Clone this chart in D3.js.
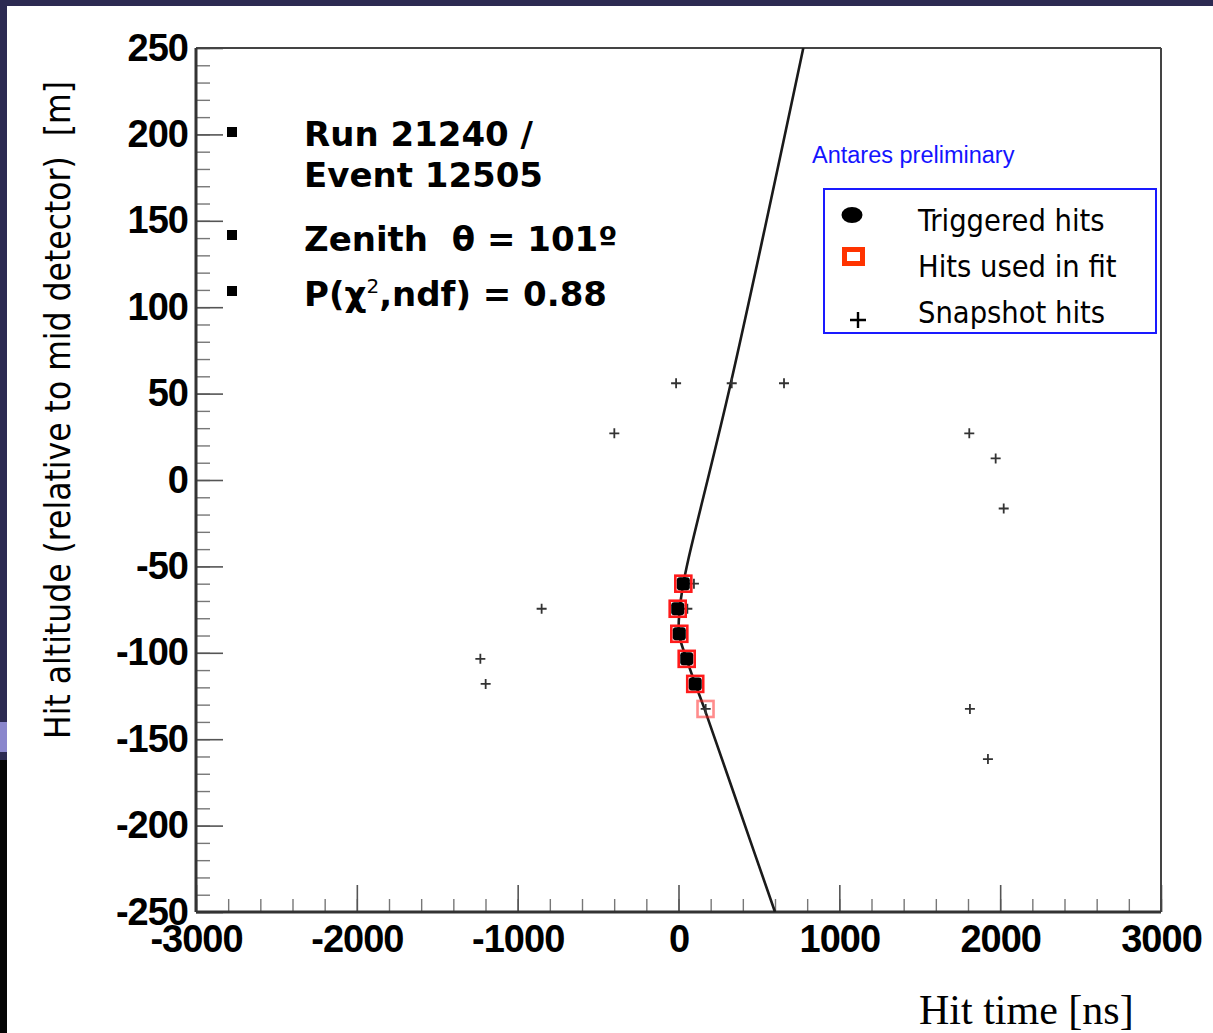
<!DOCTYPE html>
<html>
<head>
  <meta charset="utf-8">
  <title>Hit altitude vs hit time</title>
  <script src="https://d3js.org/d3.v7.min.js"></script>
  <style>
    body { margin: 0; background: #2c2a52; }
    svg { display: block; }
    .tick text { font-family: "Liberation Sans", Arial, sans-serif; font-weight: bold; font-size: 38px; fill: #000; letter-spacing: -1px; }
    .tick line { stroke: #555; stroke-width: 1.6px; }
    .minor .tick line { stroke: #777; stroke-width: 1.4px; }
  </style>
</head>
<body>
<script>

// axis ticks
var timeTicks = [-3000, -2000, -1000, 0, 1000, 2000, 3000];
var altTicks = [-250, -200, -150, -100, -50, 0, 50, 100, 150, 200, 250];

// snapshot hits (time ns, altitude m)
var snapT = [-15, 331, 656, -399, 1808, 1972, 2022, -851, -1232, -1199, 1812, 1924, 96, 55, 169];
var snapZ = [56, 56, 56, 27, 27, 12.5, -16.5, -74.5, -103.5, -118, -132.5, -161.5, -60, -74.5, -132.5];

// triggered hits
var trigT = [30, -5, 5, 51, 104];
var trigZ = [-60, -74.5, -89, -103.5, -118];

// hits used in fit
var fitT = [30, -5, 5, 51, 104, 168];
var fitZ = [-60, -74.5, -89, -103.5, -118, -132.5];

// fitted track curve
var curveT = [776, 325, 61, 30, 8, 3, 50, 104, 160, 380, 600];
var curveZ = [250, 56, -46, -60, -74.5, -89, -103.5, -118, -132, -191, -250];

var legendLabels = ["Triggered hits", "Hits used in fit", "Snapshot hits"];
var infoLines = ["Run 21240 /", "Event 12505", "Zenith  \u03b8 = 101\u00ba"];

var W = 1213, H = 1033;
var svg = d3.select("body").append("svg")
  .attr("width", W)
  .attr("height", H);

// slide background
svg.append("rect").attr("width", W).attr("height", H).attr("fill", "#2c2a52");
svg.append("rect").attr("x", 0).attr("y", 760).attr("width", 7).attr("height", 273).attr("fill", "#050505");
svg.append("rect").attr("x", 0).attr("y", 722).attr("width", 7).attr("height", 30).attr("fill", "#8a86cc");
svg.append("rect").attr("x", 7).attr("y", 6).attr("width", W - 7).attr("height", H - 6).attr("fill", "#fff");

var x = d3.scaleLinear().domain([-3000, 3000]).range([196, 1161]);
var y = d3.scaleLinear().domain([-250, 250]).range([912, 48]);

svg.append("clipPath").attr("id", "plotclip")
  .append("rect")
  .attr("x", x(-3000)).attr("y", y(250))
  .attr("width", x(3000) - x(-3000)).attr("height", y(-250) - y(250));

var fmt = d => String(d);

// minor ticks
svg.append("g").attr("class", "minor")
  .attr("transform", "translate(0," + y(-250) + ")")
  .call(d3.axisBottom(x).tickValues(d3.range(-3000, 3001, 200)).tickSizeInner(-13).tickSizeOuter(0).tickFormat(""))
  .call(g => g.select(".domain").remove());

svg.append("g").attr("class", "minor")
  .attr("transform", "translate(" + x(-3000) + ",0)")
  .call(d3.axisLeft(y).tickValues(d3.range(-250, 251, 10)).tickSizeInner(-14).tickSizeOuter(0).tickFormat(""))
  .call(g => g.select(".domain").remove());

// major ticks + labels
svg.append("g")
  .attr("transform", "translate(0," + y(-250) + ")")
  .call(d3.axisBottom(x).tickValues(timeTicks).tickSizeInner(-27).tickSizeOuter(0).tickPadding(13).tickFormat(fmt))
  .call(g => g.select(".domain").remove());

svg.append("g")
  .attr("transform", "translate(" + x(-3000) + ",0)")
  .call(d3.axisLeft(y).tickValues(altTicks).tickSizeInner(-27).tickSizeOuter(0).tickPadding(8).tickFormat(fmt))
  .call(g => g.select(".domain").remove());

// frame
svg.append("line").attr("x1", x(-3000)).attr("x2", x(3000)).attr("y1", y(250)).attr("y2", y(250))
  .attr("stroke", "#444").attr("stroke-width", 2);
svg.append("line").attr("x1", x(3000)).attr("x2", x(3000)).attr("y1", y(250)).attr("y2", y(-250))
  .attr("stroke", "#444").attr("stroke-width", 2);
svg.append("line").attr("x1", x(-3000)).attr("x2", x(-3000)).attr("y1", y(250)).attr("y2", y(-250))
  .attr("stroke", "#333").attr("stroke-width", 3);
svg.append("line").attr("x1", x(-3000)).attr("x2", x(3000)).attr("y1", y(-250)).attr("y2", y(-250))
  .attr("stroke", "#333").attr("stroke-width", 3);

// axis titles
svg.append("text")
  .attr("transform", "translate(70," + 410 + ") rotate(-90)")
  .attr("text-anchor", "middle")
  .style("white-space", "pre")
  .style("font-family", "'DejaVu Sans Condensed', 'DejaVu Sans', sans-serif")
  .style("font-stretch", "condensed")
  .style("font-size", "35px")
  .text("Hit altitude (relative to mid detector)  [m]");

svg.append("text")
  .attr("x", 919).attr("y", 1024)
  .style("font-family", "'Liberation Serif', 'Times New Roman', serif")
  .style("font-size", "42px")
  .text("Hit time [ns]");

// fitted curve
var line = d3.line()
  .x((d, i) => x(curveT[i]))
  .y((d, i) => y(curveZ[i]))
  .curve(d3.curveCatmullRom);

svg.append("path")
  .datum(curveT)
  .attr("clip-path", "url(#plotclip)")
  .attr("d", line)
  .attr("fill", "none")
  .attr("stroke", "#1a1a1a")
  .attr("stroke-width", 2.6);

// snapshot hits
svg.selectAll(".snap")
  .data(snapT)
  .enter().append("path")
  .attr("class", "snap")
  .attr("transform", (d, i) => "translate(" + x(d) + "," + y(snapZ[i]) + ")")
  .attr("d", "M-5,0H5M0,-5V5")
  .attr("stroke", "#333")
  .attr("stroke-width", 1.8);

// hits used in fit
svg.selectAll(".fit")
  .data(fitT)
  .enter().append("rect")
  .attr("class", "fit")
  .attr("x", d => x(d) - 8)
  .attr("y", (d, i) => y(fitZ[i]) - 8)
  .attr("width", 16)
  .attr("height", 16)
  .attr("fill", "none")
  .attr("stroke", "#ff1a1a")
  .attr("stroke-width", 2.6)
  .attr("opacity", (d, i) => trigT.indexOf(d) >= 0 && trigZ[trigT.indexOf(d)] === fitZ[i] ? 1 : 0.5);

// triggered hits
svg.selectAll(".trig")
  .data(trigT)
  .enter().append("rect")
  .attr("class", "trig")
  .attr("x", d => x(d) - 6.5)
  .attr("y", (d, i) => y(trigZ[i]) - 6.5)
  .attr("width", 13)
  .attr("height", 13)
  .attr("rx", 3)
  .attr("fill", "#000");

// info text
var infoFont = "'DejaVu Sans', Verdana, sans-serif";
var bulletY = [132, 235, 291];
svg.selectAll(".bullet")
  .data(bulletY)
  .enter().append("rect")
  .attr("x", 227).attr("y", d => d - 5)
  .attr("width", 10).attr("height", 10)
  .attr("fill", "#000");

var infoY = [146, 187, 251];
svg.selectAll(".info")
  .data(infoLines)
  .enter().append("text")
  .attr("x", 304).attr("y", (d, i) => infoY[i])
  .style("white-space", "pre")
  .style("font-family", infoFont)
  .style("font-weight", "bold")
  .style("font-size", "34px")
  .text(d => d);

var pText = svg.append("text")
  .attr("x", 304).attr("y", 306)
  .style("font-family", infoFont)
  .style("font-weight", "bold")
  .style("font-size", "34px");
pText.append("tspan").text("P(\u03c7");
pText.append("tspan").attr("dy", -13).style("font-size", "20px").style("font-weight", "normal").text("2");
pText.append("tspan").attr("dy", 13).text(",ndf) = 0.88");

// legend
svg.append("text")
  .attr("x", 812).attr("y", 163)
  .style("font-family", "'Liberation Sans', Arial, sans-serif")
  .style("font-size", "23.5px")
  .attr("fill", "#1414ff")
  .text("Antares preliminary");

svg.append("rect")
  .attr("x", 824).attr("y", 189)
  .attr("width", 332).attr("height", 144)
  .attr("fill", "#fff")
  .attr("stroke", "#1a1aff")
  .attr("stroke-width", 2);

var legendY = [231, 277, 323];
svg.selectAll(".legtext")
  .data(legendLabels)
  .enter().append("text")
  .attr("x", 918).attr("y", (d, i) => legendY[i])
  .style("font-family", "'DejaVu Sans Condensed', 'DejaVu Sans', sans-serif")
  .style("font-stretch", "condensed")
  .style("font-size", "30.5px")
  .text(d => d);

svg.append("ellipse")
  .attr("cx", 852).attr("cy", 215).attr("rx", 10.5).attr("ry", 8)
  .attr("fill", "#000");
svg.append("rect")
  .attr("x", 844.5).attr("y", 249.5).attr("width", 18).attr("height", 14)
  .attr("fill", "#fff")
  .attr("stroke", "#ff3300")
  .attr("stroke-width", 5);
svg.append("path")
  .attr("transform", "translate(858,320)")
  .attr("d", "M-8,0H8M0,-8V8")
  .attr("stroke", "#000")
  .attr("stroke-width", 2.4);

</script>
</body>
</html>
